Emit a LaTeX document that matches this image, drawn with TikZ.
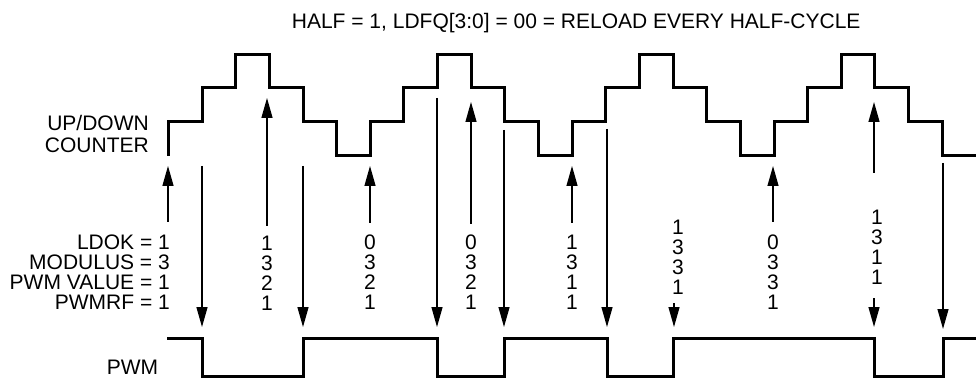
\documentclass[tikz,border=0pt]{standalone}
\usepackage{fontspec}
\setmainfont{Liberation Sans}
\usetikzlibrary{arrows.meta}
\begin{document}
\begin{tikzpicture}[x=1pt,y=-1pt,
  wave/.style={line width=3pt, line join=miter, line cap=butt},
  arr/.style={line width=1.3pt, -{Triangle[length=20pt,width=11pt]}},
  lbl/.style={inner sep=0pt, font=\fontsize{21}{20}\selectfont},
  col/.style={lbl, align=center, anchor=north},
]
\useasboundingbox (0,0) rectangle (976,379);
% title
\node[lbl, anchor=base west] (title) at (291.7,29) {HALF = 1, LDFQ[3:0] = 00 = RELOAD EVERY HALF-CYCLE};
% left labels
\node[lbl, align=right, anchor=north east, font=\fontsize{21}{22.3}\selectfont] (ctr) at (149,115) {UP/DOWN\\COUNTER};
\node[lbl, align=right, anchor=north east] (params) at (170,235) {LDOK = 1\\MODULUS = 3\\PWM VALUE = 1\\PWMRF = 1};
\node[lbl, anchor=north east] (pwm) at (158.3,360) {PWM};
% up/down counter
\draw[wave] (168,156) |- (202,122) |- (235,88) |- (269,55) |- (303,88) |- (336,122) |- (370,156)
  |- (403,122) |- (437,88) |- (471,55) |- (504,88) |- (538,122) |- (572,156)
  |- (605,122) |- (639,88) |- (673,55) |- (706,88) |- (740,122) |- (774,156)
  |- (807,122) |- (841,88) |- (874,55) |- (908,88) |- (942,122) |- (976,156);
% PWM
\draw[wave] (167,338) -| (202,376) -| (303,338) -| (437,376) -| (504,338) -| (607,376) -| (673,338)
  -| (874,376) -| (943,338) -- (976,338);
% down arrows
\draw[arr] (202,166) -- (202,327);
\draw[arr] (303,166) -- (303,327);
\draw[arr] (437,98) -- (437,327);
\draw[arr] (504,130) -- (504,327);
\draw[arr] (607,129) -- (607,327);
\draw[arr] (674,303) -- (674,327);
\draw[arr] (874,298) -- (874,327);
\draw[arr] (943,163) -- (943,329);
% up arrows
\draw[arr] (168,222) -- (168,166);
\draw[arr] (267,226) -- (267,98);
\draw[arr] (370,223) -- (370,166);
\draw[arr] (471,224) -- (471,102);
\draw[arr] (572,223) -- (572,166);
\draw[arr] (773,222) -- (773,166);
\draw[arr] (874,173) -- (874,102);
% value columns
\node[col] (c1) at (267,236) {1\\3\\2\\1};
\node[col] (c2) at (370,235) {0\\3\\2\\1};
\node[col] (c3) at (471,235) {0\\3\\2\\1};
\node[col] (c4) at (572,235) {1\\3\\1\\1};
\node[col] (c5) at (678,220) {1\\3\\3\\1};
\node[col] (c6) at (773,235) {0\\3\\3\\1};
\node[col] (c7) at (877,210) {1\\3\\1\\1};
\end{tikzpicture}
\end{document}
